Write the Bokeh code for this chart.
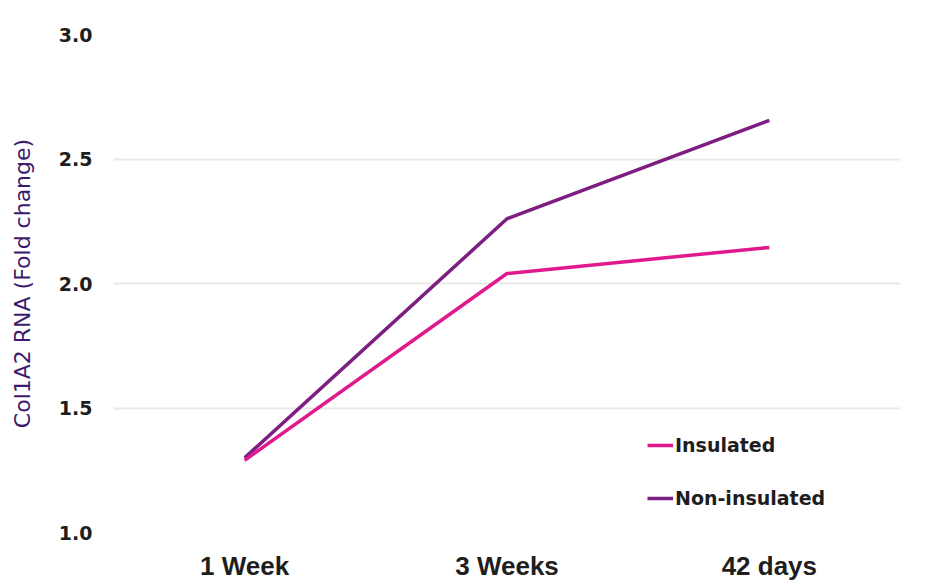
from bokeh.plotting import figure
from bokeh.models import FixedTicker, Legend, LegendItem
from bokeh.embed import file_html
from bokeh.resources import INLINE

categories = ["1 Week", "3 Weeks", "42 days"]
insulated = [1.29, 2.04, 2.145]
non_insulated = [1.30, 2.26, 2.655]
y_ticks = [1.0, 1.5, 2.0, 2.5, 3.0]
y_tick_labels = ["1.0", "1.5", "2.0", "2.5", "3.0"]

xs = list(range(len(categories)))

p = figure(width=927, height=583, output_backend="svg", toolbar_location=None,
           x_range=(-0.5, 2.5), y_range=(1.0, 3.0),
           min_border_left=113, min_border_right=27, min_border_top=34, min_border_bottom=44)
p.outline_line_color = None
p.background_fill_color = "white"
p.border_fill_color = "white"

r_non = p.line(xs, non_insulated, line_color="#7b1f80", line_width=3.5)
r_ins = p.line(xs, insulated, line_color="#e0198c", line_width=3.5)

# axes
p.xaxis.ticker = FixedTicker(ticks=xs)
p.xaxis.major_label_overrides = {i: c for i, c in enumerate(categories)}
p.yaxis.ticker = FixedTicker(ticks=y_ticks)
p.yaxis.major_label_overrides = {t: l for t, l in zip(y_ticks, y_tick_labels)}
for ax in (p.xaxis[0], p.yaxis[0]):
    ax.axis_line_color = None
    ax.major_tick_line_color = None
    ax.minor_tick_line_color = None
    ax.major_label_text_font_style = "bold"
    ax.major_label_text_color = "#1e1e1e"

p.xaxis.major_label_text_font = "Liberation Sans"
p.xaxis.major_label_text_font_size = "26px"
p.xaxis.major_label_standoff = 12

p.yaxis.major_label_text_font = "DejaVu Sans"
p.yaxis.major_label_text_font_size = "19px"
p.yaxis.major_label_standoff = 15

p.yaxis.axis_label = "Col1A2 RNA (Fold change)"
p.yaxis.axis_label_text_font = "DejaVu Sans"
p.yaxis.axis_label_text_font_style = "normal"
p.yaxis.axis_label_text_font_size = "22px"
p.yaxis.axis_label_text_color = "#3d1a6e"
p.yaxis.axis_label_standoff = 21

p.xgrid.grid_line_color = None
p.ygrid.ticker = FixedTicker(ticks=[1.5, 2.0, 2.5])
p.ygrid.grid_line_color = "#e9e9e9"
p.ygrid.grid_line_width = 2

legend = Legend(items=[LegendItem(label="Insulated", renderers=[r_ins]),
                       LegendItem(label="Non-insulated", renderers=[r_non])],
                location=(534, 23), border_line_color=None, background_fill_alpha=0,
                padding=0, margin=0, glyph_width=26, glyph_height=20, spacing=31,
                label_standoff=2, label_text_font="DejaVu Sans",
                label_text_font_style="bold", label_text_font_size="19px",
                label_text_color="#1e1e1e")
p.add_layout(legend)

open("out.html", "w").write(file_html(p, INLINE))
